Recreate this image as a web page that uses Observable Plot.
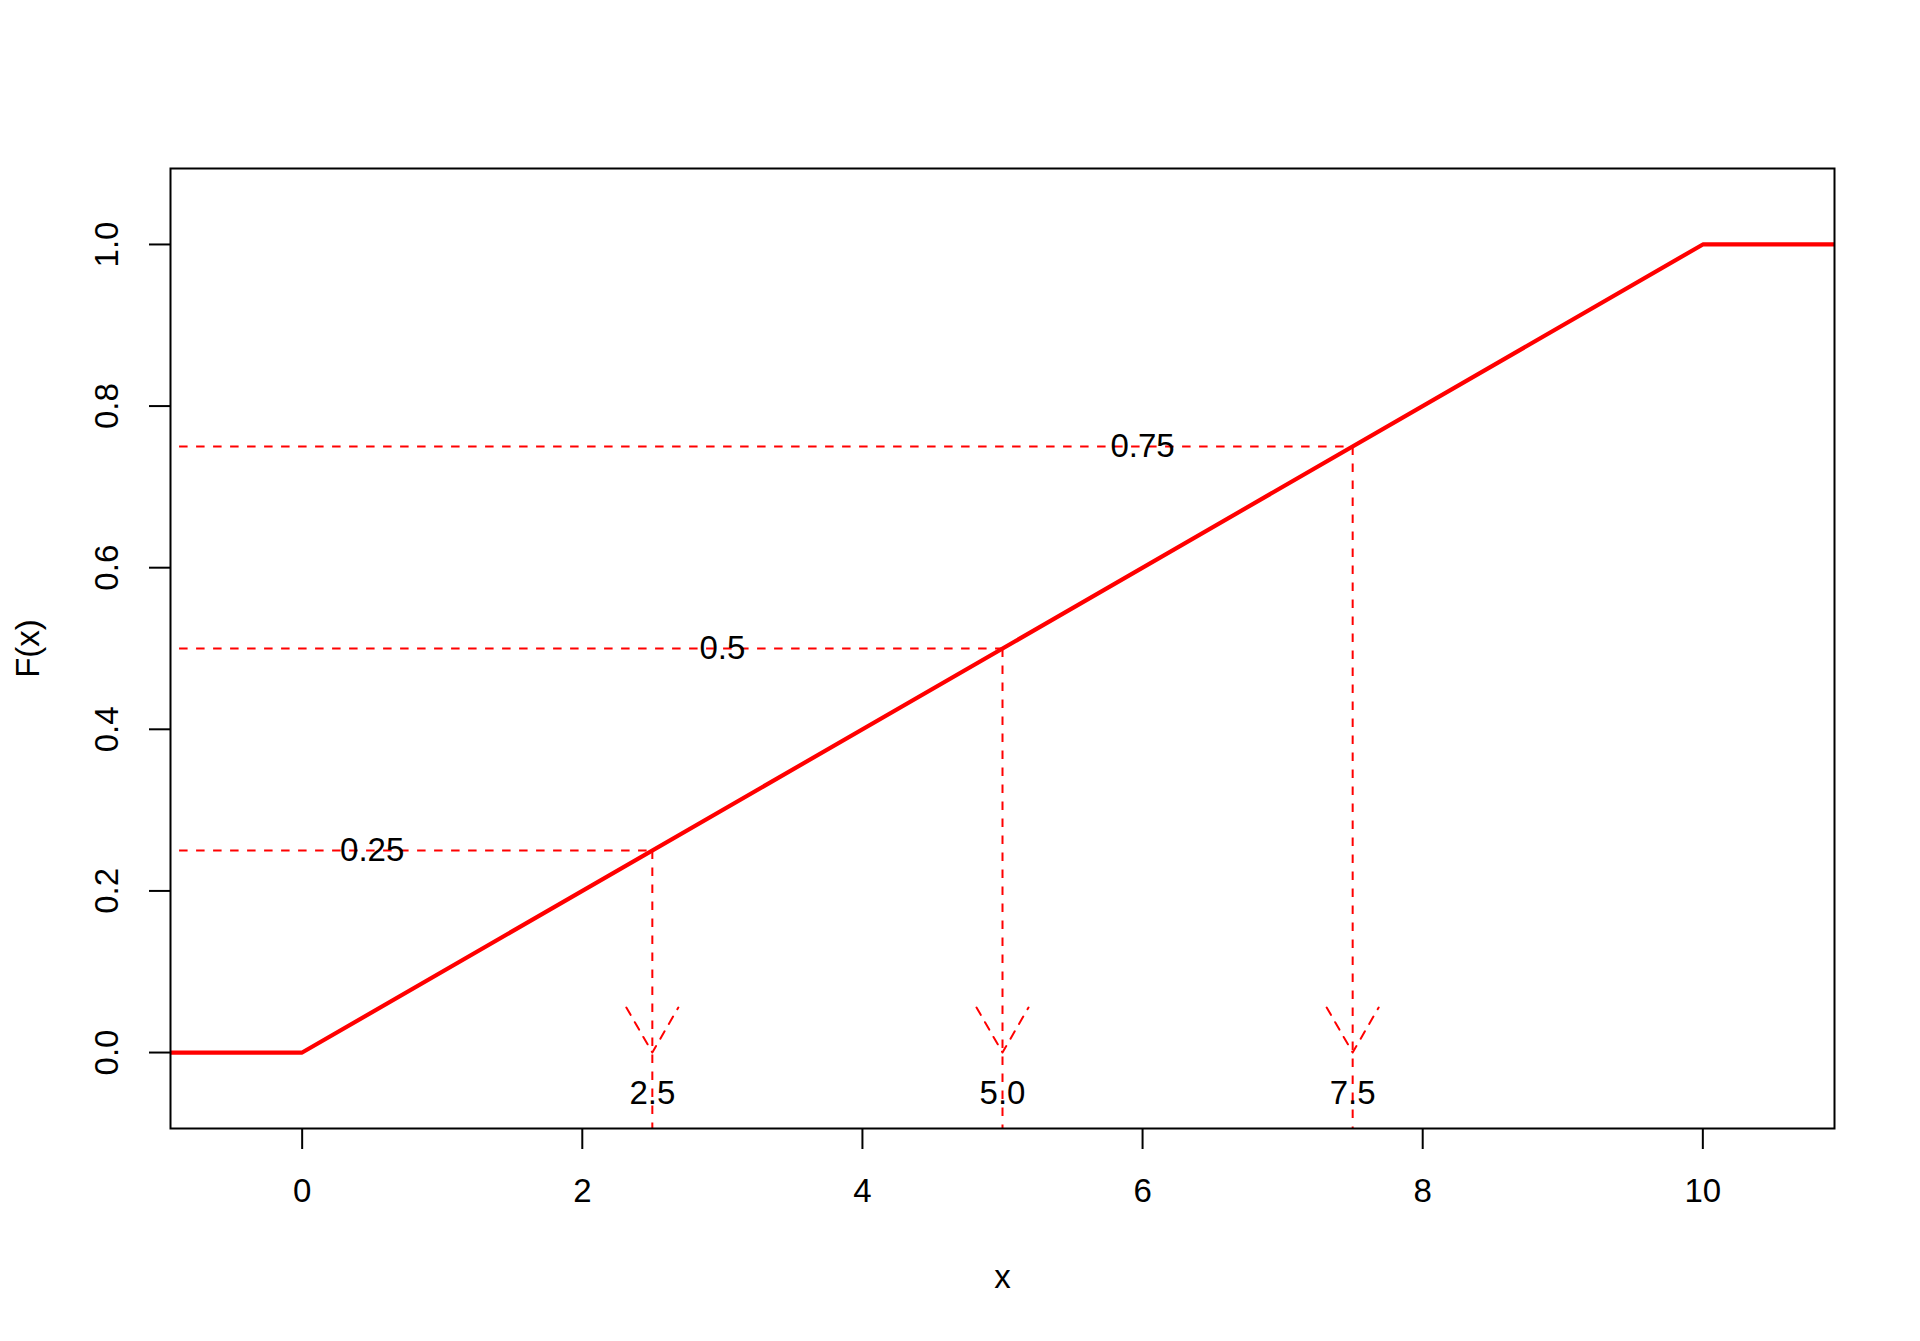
<!DOCTYPE html>
<html>
<head>
<meta charset="utf-8">
<script src="https://cdn.jsdelivr.net/npm/d3@7"></script>
<script src="https://cdn.jsdelivr.net/npm/@observablehq/plot@0.6"></script>
<style>
  html, body { margin: 0; padding: 0; background: #fff; }
  svg { display: block; }
</style>
</head>
<body>
<div id="chart"></div>
<script>
// ---- data ----
const cdfX = [-1, 0, 10, 11];
const cdfY = [0, 0, 1, 1];
const probs = [0.25, 0.5, 0.75];
const quantiles = [2.5, 5.0, 7.5];
const probLabels = ["0.25", "0.5", "0.75"];
const probLabelX = [0.5, 3.0, 6.0];
const quantLabels = ["2.5", "5.0", "7.5"];
const quantLabelY = -0.05;
const xTicks = [0, 2, 4, 6, 8, 10];
const yTicks = [0, 0.2, 0.4, 0.6, 0.8, 1.0];
const xDomain = [-0.94, 10.94];
const yDomain = [-0.094, 1.094];
const lineStartX = -1;
const vertEndY = -0.3;

// ---- layout / style ----
const W = 1920, H = 1341;
const mL = 170, mR = 86, mT = 168, mB = 213;
const FS = 33;
const red = "#ff0000";
const dash = "8.5,8.5";

// arrowhead geometry (R arrows: length 0.25in, angle 30deg)
const headLenPx = 52, headAngle = 30 * Math.PI / 180;
const pxX = (xDomain[1] - xDomain[0]) / (W - mL - mR);
const pxY = (yDomain[1] - yDomain[0]) / (H - mT - mB);
const wingDx = headLenPx * Math.sin(headAngle) * pxX;
const wingDy = headLenPx * Math.cos(headAngle) * pxY;

const cdf = cdfX.map((x, i) => ({x, y: cdfY[i]}));
const qs = probs.map((p, i) => ({p, q: quantiles[i], pl: probLabels[i], plx: probLabelX[i], ql: quantLabels[i]}));
const heads = qs.flatMap(d => [
  {k: d.q, x: d.q - wingDx, y: wingDy},
  {k: d.q, x: d.q, y: 0},
  {k: d.q, x: d.q + wingDx, y: wingDy}
]);

const chart = Plot.plot({
  width: W, height: H,
  marginLeft: mL, marginRight: mR, marginTop: mT, marginBottom: mB,
  style: {fontFamily: "'Liberation Sans', Arial, Helvetica, sans-serif", fontSize: FS + "px", background: "#fff", color: "#000"},
  x: {domain: xDomain},
  y: {domain: yDomain},
  marks: [
    // dashed horizontal guides
    Plot.link(qs, {x1: () => lineStartX, y1: "p", x2: "q", y2: "p", stroke: red, strokeWidth: 2, strokeDasharray: dash, clip: true}),
    // dashed vertical guides
    Plot.link(qs, {x1: "q", y1: "p", x2: "q", y2: () => vertEndY, stroke: red, strokeWidth: 2, strokeDasharray: dash, clip: true}),
    // arrow heads
    Plot.line(heads, {x: "x", y: "y", z: "k", stroke: red, strokeWidth: 2, strokeDasharray: dash, clip: true}),
    // CDF
    Plot.line(cdf, {x: "x", y: "y", stroke: red, strokeWidth: 4.2, clip: true}),
    // labels
    Plot.text(qs, {x: "plx", y: "p", text: "pl", fontSize: FS, fill: "#000"}),
    Plot.text(qs, {x: "q", y: () => quantLabelY, text: "ql", fontSize: FS, fill: "#000"}),
    // frame
    Plot.frame({stroke: "#000", strokeWidth: 2}),
    // x axis
    Plot.axisX(xTicks, {tickSize: 21, tickPadding: 29, fontSize: FS, strokeWidth: 2, label: null, tickFormat: d => String(d)}),
    Plot.text(["x"], {frameAnchor: "bottom", lineAnchor: "middle", textAnchor: "middle", dy: 149, fontSize: FS, fill: "#000"}),
    // y axis
    Plot.axisY(yTicks, {tickSize: 21, strokeWidth: 2, label: null, tickFormat: () => ""}),
    Plot.text(yTicks, {y: d => d, text: d => d.toFixed(1), frameAnchor: "left", textAnchor: "middle", lineAnchor: "middle", dx: -63, rotate: -90, fontSize: FS, fill: "#000"}),
    Plot.text(["F(x)"], {frameAnchor: "left", textAnchor: "middle", lineAnchor: "middle", dx: -142, rotate: -90, fontSize: FS, fill: "#000"})
  ]
});
document.getElementById("chart").appendChild(chart);
</script>
</body>
</html>
